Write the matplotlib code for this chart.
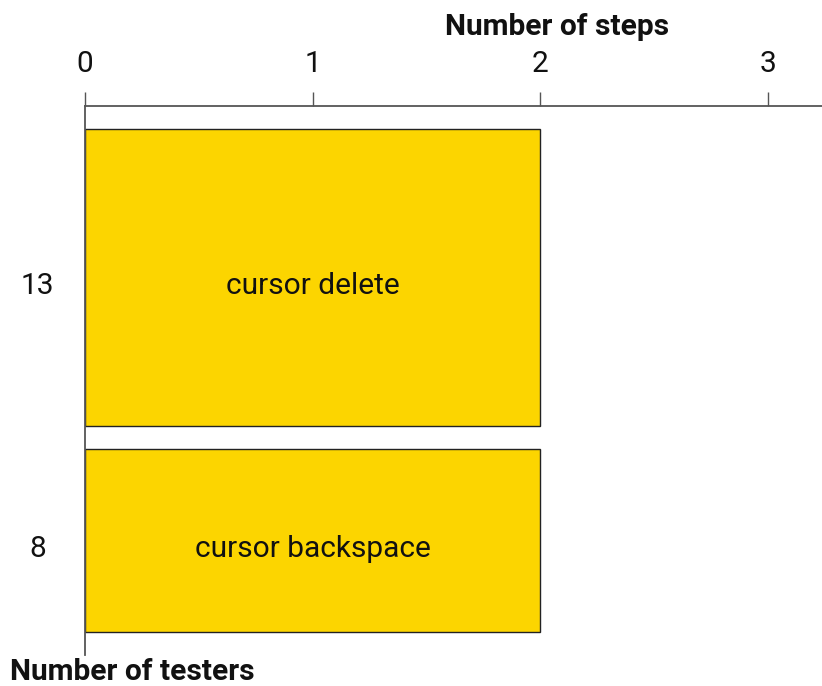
import matplotlib.pyplot as plt
import numpy as np

plt.rcParams['font.family'] = ['Roboto', 'DejaVu Sans']

# data
labels = ['cursor delete', 'cursor backspace']
testers = [13, 8]
steps = [2, 2]
x_ticks = [0, 1, 2, 3]

gap = 1.0
bottoms = []
pos = gap
for t in testers:
    bottoms.append(pos)
    pos += t + gap
y_end = pos

fs = 21.5

fig = plt.figure(figsize=(8.22, 6.86), dpi=100)
ax = fig.add_axes([85 / 822, 1 - 655 / 686, 1 - 85 / 822, (655 - 106) / 686])

centers = [b + t / 2 for b, t in zip(bottoms, testers)]
ax.barh(centers, steps, height=testers, left=0, color='#FCD500',
        edgecolor='#222222', linewidth=1.0)

for c, s, lab in zip(centers, steps, labels):
    ax.annotate(lab, (s / 2, c), xytext=(0, -6), textcoords='offset points',
                ha='center', va='center', fontsize=fs, color='#111111')

for c, t in zip(centers, testers):
    ax.annotate(str(t), (0, c), xytext=(-34, -6), textcoords='offset points',
                ha='center', va='center', fontsize=fs, color='#111111',
                annotation_clip=False)

ax.set_xlim(0, (822 - 85) / 227.6)
ax.set_ylim(y_end, 0)
ax.xaxis.tick_top()
ax.set_xticks(x_ticks)
ax.set_xticklabels([str(v) for v in x_ticks], fontsize=fs, color='#111111')
ax.tick_params(axis='x', direction='out', length=10, width=1.0, color='#555555', pad=10)
ax.set_yticks([])

for s in ['right', 'bottom']:
    ax.spines[s].set_visible(False)
for s in ['top', 'left']:
    ax.spines[s].set_color('#555555')
    ax.spines[s].set_linewidth(1.3)

fig.text(557 / 822, 1 - 27 / 686, 'Number of steps', ha='center', va='center',
         fontsize=fs, fontweight='bold', color='#111111')
fig.text(10 / 822, 1 - 672 / 686, 'Number of testers', ha='left', va='center',
         fontsize=fs, fontweight='bold', color='#111111')

fig.savefig('out.png', dpi=100)
